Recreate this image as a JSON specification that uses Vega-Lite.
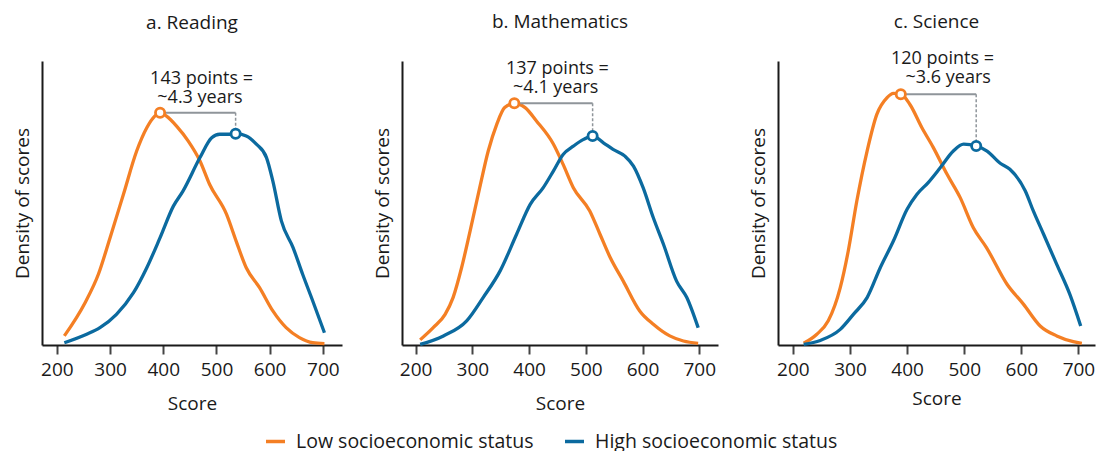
{
  "$schema": "https://vega.github.io/schema/vega-lite/v6.json",
  "padding": {"left": 13, "right": 8, "top": 13, "bottom": 25},
  "background": "white",
  "spacing": 31,
  "config": {
    "font": "Open Sans",
    "view": {"stroke": null},
    "axis": {"grid": false, "labelFont": "Open Sans", "titleFont": "Open Sans", "labelFontSize": 19, "titleFontSize": 19, "labelColor": "#1a1a1a", "titleColor": "#1a1a1a", "titleFontWeight": "normal", "domainColor": "#1a1a1a", "domainWidth": 2, "tickColor": "#444444", "tickWidth": 2},
    "title": {"font": "Open Sans", "fontSize": 19, "fontWeight": "normal", "color": "#1a1a1a", "anchor": "middle", "offset": 28},
    "legend": {"labelFont": "Open Sans", "labelFontSize": 19.5, "labelColor": "#1a1a1a", "symbolStrokeWidth": 3.5, "symbolSize": 361, "columnPadding": 24, "labelOffset": 9, "labelLimit": 400}
  },
  "datasets": {
    "curves": [
      {"panel":"R","group":"Low socioeconomic status","score":214,"density":3.2},
      {"panel":"R","group":"Low socioeconomic status","score":253,"density":14.9},
      {"panel":"R","group":"Low socioeconomic status","score":278,"density":24.9},
      {"panel":"R","group":"Low socioeconomic status","score":300,"density":37.8},
      {"panel":"R","group":"Low socioeconomic status","score":325,"density":53},
      {"panel":"R","group":"Low socioeconomic status","score":350,"density":68.3},
      {"panel":"R","group":"Low socioeconomic status","score":369,"density":76.5},
      {"panel":"R","group":"Low socioeconomic status","score":384,"density":80.6},
      {"panel":"R","group":"Low socioeconomic status","score":394,"density":81.8},
      {"panel":"R","group":"Low socioeconomic status","score":406,"density":80.6},
      {"panel":"R","group":"Low socioeconomic status","score":425,"density":77.1},
      {"panel":"R","group":"Low socioeconomic status","score":447,"density":71.8},
      {"panel":"R","group":"Low socioeconomic status","score":469,"density":64.8},
      {"panel":"R","group":"Low socioeconomic status","score":487,"density":56.6},
      {"panel":"R","group":"Low socioeconomic status","score":519,"density":46},
      {"panel":"R","group":"Low socioeconomic status","score":537,"density":36.6},
      {"panel":"R","group":"Low socioeconomic status","score":556,"density":27.2},
      {"panel":"R","group":"Low socioeconomic status","score":581,"density":20.2},
      {"panel":"R","group":"Low socioeconomic status","score":606,"density":12},
      {"panel":"R","group":"Low socioeconomic status","score":631,"density":6.1},
      {"panel":"R","group":"Low socioeconomic status","score":656,"density":2.6},
      {"panel":"R","group":"Low socioeconomic status","score":681,"density":0.8},
      {"panel":"R","group":"Low socioeconomic status","score":703,"density":0.5},
      {"panel":"R","group":"High socioeconomic status","score":214,"density":0.8},
      {"panel":"R","group":"High socioeconomic status","score":256,"density":3.8},
      {"panel":"R","group":"High socioeconomic status","score":281,"density":6.1},
      {"panel":"R","group":"High socioeconomic status","score":312,"density":10.8},
      {"panel":"R","group":"High socioeconomic status","score":344,"density":18.4},
      {"panel":"R","group":"High socioeconomic status","score":369,"density":27.2},
      {"panel":"R","group":"High socioeconomic status","score":394,"density":37.8},
      {"panel":"R","group":"High socioeconomic status","score":419,"density":48.9},
      {"panel":"R","group":"High socioeconomic status","score":437,"density":54.2},
      {"panel":"R","group":"High socioeconomic status","score":469,"density":66},
      {"panel":"R","group":"High socioeconomic status","score":491,"density":73},
      {"panel":"R","group":"High socioeconomic status","score":506,"density":74.2},
      {"panel":"R","group":"High socioeconomic status","score":525,"density":74.2},
      {"panel":"R","group":"High socioeconomic status","score":536,"density":74.4},
      {"panel":"R","group":"High socioeconomic status","score":556,"density":73.6},
      {"panel":"R","group":"High socioeconomic status","score":575,"density":70.7},
      {"panel":"R","group":"High socioeconomic status","score":594,"density":66},
      {"panel":"R","group":"High socioeconomic status","score":606,"density":57.7},
      {"panel":"R","group":"High socioeconomic status","score":622,"density":43.7},
      {"panel":"R","group":"High socioeconomic status","score":644,"density":34.3},
      {"panel":"R","group":"High socioeconomic status","score":662,"density":24.9},
      {"panel":"R","group":"High socioeconomic status","score":681,"density":15.5},
      {"panel":"R","group":"High socioeconomic status","score":703,"density":4.3},
      {"panel":"M","group":"Low socioeconomic status","score":208,"density":1.8},
      {"panel":"M","group":"Low socioeconomic status","score":231,"density":6.1},
      {"panel":"M","group":"Low socioeconomic status","score":252,"density":10.8},
      {"panel":"M","group":"Low socioeconomic status","score":266,"density":16.7},
      {"panel":"M","group":"Low socioeconomic status","score":281,"density":27.2},
      {"panel":"M","group":"Low socioeconomic status","score":296,"density":40.1},
      {"panel":"M","group":"Low socioeconomic status","score":313,"density":55.4},
      {"panel":"M","group":"Low socioeconomic status","score":328,"density":68.3},
      {"panel":"M","group":"Low socioeconomic status","score":343,"density":77.7},
      {"panel":"M","group":"Low socioeconomic status","score":357,"density":83.6},
      {"panel":"M","group":"Low socioeconomic status","score":374,"density":85.1},
      {"panel":"M","group":"Low socioeconomic status","score":393,"density":83.6},
      {"panel":"M","group":"Low socioeconomic status","score":413,"density":78.9},
      {"panel":"M","group":"Low socioeconomic status","score":443,"density":70.7},
      {"panel":"M","group":"Low socioeconomic status","score":460,"density":63.6},
      {"panel":"M","group":"Low socioeconomic status","score":478,"density":55.4},
      {"panel":"M","group":"Low socioeconomic status","score":507,"density":47.2},
      {"panel":"M","group":"Low socioeconomic status","score":525,"density":39},
      {"panel":"M","group":"Low socioeconomic status","score":543,"density":30.8},
      {"panel":"M","group":"Low socioeconomic status","score":566,"density":22.5},
      {"panel":"M","group":"Low socioeconomic status","score":595,"density":12},
      {"panel":"M","group":"Low socioeconomic status","score":619,"density":7.3},
      {"panel":"M","group":"Low socioeconomic status","score":648,"density":3.2},
      {"panel":"M","group":"Low socioeconomic status","score":672,"density":1.4},
      {"panel":"M","group":"Low socioeconomic status","score":698,"density":0.6},
      {"panel":"M","group":"High socioeconomic status","score":208,"density":0.2},
      {"panel":"M","group":"High socioeconomic status","score":249,"density":3.2},
      {"panel":"M","group":"High socioeconomic status","score":290,"density":8.5},
      {"panel":"M","group":"High socioeconomic status","score":319,"density":16.7},
      {"panel":"M","group":"High socioeconomic status","score":349,"density":26.1},
      {"panel":"M","group":"High socioeconomic status","score":378,"density":39},
      {"panel":"M","group":"High socioeconomic status","score":402,"density":49.5},
      {"panel":"M","group":"High socioeconomic status","score":425,"density":55.4},
      {"panel":"M","group":"High socioeconomic status","score":443,"density":61.3},
      {"panel":"M","group":"High socioeconomic status","score":460,"density":67.1},
      {"panel":"M","group":"High socioeconomic status","score":478,"density":70},
      {"panel":"M","group":"High socioeconomic status","score":496,"density":72.4},
      {"panel":"M","group":"High socioeconomic status","score":512,"density":73.6},
      {"panel":"M","group":"High socioeconomic status","score":531,"density":71.2},
      {"panel":"M","group":"High socioeconomic status","score":548,"density":68.9},
      {"panel":"M","group":"High socioeconomic status","score":569,"density":66.5},
      {"panel":"M","group":"High socioeconomic status","score":584,"density":63},
      {"panel":"M","group":"High socioeconomic status","score":601,"density":55.4},
      {"panel":"M","group":"High socioeconomic status","score":619,"density":44.8},
      {"panel":"M","group":"High socioeconomic status","score":637,"density":35.4},
      {"panel":"M","group":"High socioeconomic status","score":660,"density":22.5},
      {"panel":"M","group":"High socioeconomic status","score":678,"density":16.7},
      {"panel":"M","group":"High socioeconomic status","score":698,"density":6.1},
      {"panel":"S","group":"Low socioeconomic status","score":219,"density":0.6},
      {"panel":"S","group":"Low socioeconomic status","score":242,"density":3.8},
      {"panel":"S","group":"Low socioeconomic status","score":262,"density":8.5},
      {"panel":"S","group":"Low socioeconomic status","score":283,"density":20.2},
      {"panel":"S","group":"Low socioeconomic status","score":297,"density":33.1},
      {"panel":"S","group":"Low socioeconomic status","score":312,"density":50.7},
      {"panel":"S","group":"Low socioeconomic status","score":330,"density":68.3},
      {"panel":"S","group":"Low socioeconomic status","score":347,"density":81.2},
      {"panel":"S","group":"Low socioeconomic status","score":365,"density":87.1},
      {"panel":"S","group":"Low socioeconomic status","score":376,"density":88.6},
      {"panel":"S","group":"Low socioeconomic status","score":389,"density":88.3},
      {"panel":"S","group":"Low socioeconomic status","score":405,"density":84.7},
      {"panel":"S","group":"Low socioeconomic status","score":426,"density":76.5},
      {"panel":"S","group":"Low socioeconomic status","score":446,"density":69.5},
      {"panel":"S","group":"Low socioeconomic status","score":470,"density":60.1},
      {"panel":"S","group":"Low socioeconomic status","score":493,"density":51.9},
      {"panel":"S","group":"Low socioeconomic status","score":516,"density":41.3},
      {"panel":"S","group":"Low socioeconomic status","score":539,"density":34.3},
      {"panel":"S","group":"Low socioeconomic status","score":575,"density":21.4},
      {"panel":"S","group":"Low socioeconomic status","score":604,"density":14.3},
      {"panel":"S","group":"Low socioeconomic status","score":633,"density":6.7},
      {"panel":"S","group":"Low socioeconomic status","score":662,"density":3.2},
      {"panel":"S","group":"Low socioeconomic status","score":691,"density":1.2},
      {"panel":"S","group":"Low socioeconomic status","score":706,"density":0.6},
      {"panel":"S","group":"High socioeconomic status","score":219,"density":0.2},
      {"panel":"S","group":"High socioeconomic status","score":248,"density":1.6},
      {"panel":"S","group":"High socioeconomic status","score":283,"density":5.5},
      {"panel":"S","group":"High socioeconomic status","score":306,"density":10.8},
      {"panel":"S","group":"High socioeconomic status","score":330,"density":16.7},
      {"panel":"S","group":"High socioeconomic status","score":353,"density":27.2},
      {"panel":"S","group":"High socioeconomic status","score":376,"density":36.6},
      {"panel":"S","group":"High socioeconomic status","score":400,"density":47.8},
      {"panel":"S","group":"High socioeconomic status","score":417,"density":53},
      {"panel":"S","group":"High socioeconomic status","score":437,"density":57.2},
      {"panel":"S","group":"High socioeconomic status","score":458,"density":62.4},
      {"panel":"S","group":"High socioeconomic status","score":481,"density":68.3},
      {"panel":"S","group":"High socioeconomic status","score":499,"density":70.7},
      {"panel":"S","group":"High socioeconomic status","score":521,"density":70.1},
      {"panel":"S","group":"High socioeconomic status","score":540,"density":68.3},
      {"panel":"S","group":"High socioeconomic status","score":563,"density":64},
      {"panel":"S","group":"High socioeconomic status","score":580,"density":61.9},
      {"panel":"S","group":"High socioeconomic status","score":607,"density":54.2},
      {"panel":"S","group":"High socioeconomic status","score":621,"density":47.2},
      {"panel":"S","group":"High socioeconomic status","score":639,"density":39},
      {"panel":"S","group":"High socioeconomic status","score":662,"density":28.4},
      {"panel":"S","group":"High socioeconomic status","score":685,"density":17.8},
      {"panel":"S","group":"High socioeconomic status","score":704,"density":6.7}
    ],
    "peaks": [
      {"panel":"R","group":"Low socioeconomic status","score":394,"density":81.8},
      {"panel":"R","group":"High socioeconomic status","score":536,"density":74.4},
      {"panel":"M","group":"Low socioeconomic status","score":374,"density":85.1},
      {"panel":"M","group":"High socioeconomic status","score":512,"density":73.6},
      {"panel":"S","group":"Low socioeconomic status","score":389,"density":88.3},
      {"panel":"S","group":"High socioeconomic status","score":521,"density":70.1}
    ],
    "gaps": [
      {"panel":"R","low":394,"high":536,"lowDensity":81.8,"highDensity":74.4},
      {"panel":"M","low":374,"high":512,"lowDensity":85.1,"highDensity":73.6},
      {"panel":"S","low":389,"high":521,"lowDensity":88.3,"highDensity":70.1}
    ],
    "notes": [
      {"panel":"R","text":"143 points =","score":472,"density":93.5},
      {"panel":"R","text":"~4.3 years","score":469,"density":86.8},
      {"panel":"M","text":"137 points =","score":450,"density":97.1},
      {"panel":"M","text":"~4.1 years","score":447,"density":90.4},
      {"panel":"S","text":"120 points =","score":462,"density":100.6},
      {"panel":"S","text":"~3.6 years","score":472,"density":93.9}
    ]
  },
  "hconcat": [
    {
      "width": 300, "height": 284,
      "title": {"text": "a. Reading"},
      "layer": [
        {"data": {"name": "curves"}, "transform": [{"filter": "datum.panel === 'R'"}],
         "mark": {"type": "line", "strokeWidth": 3.3, "interpolate": "monotone"},
         "encoding": {
           "x": {"field": "score", "type": "quantitative", "scale": {"domain": [172, 736], "nice": false, "zero": false}, "axis": {"values": [200,300,400,500,600,700], "title": "Score", "tickSize": 9, "labelPadding": 6, "titlePadding": 15}},
           "y": {"field": "density", "type": "quantitative", "scale": {"domain": [0, 100], "nice": false}, "axis": {"title": "Density of scores", "ticks": false, "labels": false, "titlePadding": 10}},
           "color": {"field": "group", "type": "nominal", "scale": {"domain": ["Low socioeconomic status", "High socioeconomic status"], "range": ["#F47F24", "#0B6A9F"]},
             "legend": {"title": null, "orient": "none", "direction": "horizontal", "legendX": 222, "legendY": 369, "symbolType": "stroke"}}
         }},
        {"data": {"name": "gaps"}, "transform": [{"filter": "datum.panel === 'R'"}],
         "mark": {"type": "rule", "color": "#8f959a", "strokeWidth": 2},
         "encoding": {"x": {"field": "low", "type": "quantitative"}, "x2": {"field": "high"}, "y": {"field": "lowDensity", "type": "quantitative"}}},
        {"data": {"name": "gaps"}, "transform": [{"filter": "datum.panel === 'R'"}],
         "mark": {"type": "rule", "color": "#8f959a", "strokeWidth": 1.5, "strokeDash": [3, 2]},
         "encoding": {"x": {"field": "high", "type": "quantitative"}, "y": {"field": "lowDensity", "type": "quantitative"}, "y2": {"field": "highDensity"}}},
        {"data": {"name": "peaks"}, "transform": [{"filter": "datum.panel === 'R'"}],
         "mark": {"type": "point", "filled": false, "fill": "white", "fillOpacity": 1, "strokeWidth": 2.8, "size": 85, "opacity": 1},
         "encoding": {"x": {"field": "score", "type": "quantitative"}, "y": {"field": "density", "type": "quantitative"},
           "color": {"field": "group", "type": "nominal"}}},
        {"data": {"name": "notes"}, "transform": [{"filter": "datum.panel === 'R'"}],
         "mark": {"type": "text", "fontSize": 18, "font": "Open Sans", "color": "#1a1a1a"},
         "encoding": {"x": {"field": "score", "type": "quantitative"}, "y": {"field": "density", "type": "quantitative"}, "text": {"field": "text"}}}
      ]
    },
    {
      "width": 316, "height": 284,
      "title": {"text": "b. Mathematics"},
      "layer": [
        {"data": {"name": "curves"}, "transform": [{"filter": "datum.panel === 'M'"}],
         "mark": {"type": "line", "strokeWidth": 3.3, "interpolate": "monotone"},
         "encoding": {
           "x": {"field": "score", "type": "quantitative", "scale": {"domain": [176, 733], "nice": false, "zero": false}, "axis": {"values": [200,300,400,500,600,700], "title": "Score", "tickSize": 9, "labelPadding": 6, "titlePadding": 15}},
           "y": {"field": "density", "type": "quantitative", "scale": {"domain": [0, 100], "nice": false}, "axis": {"title": "Density of scores", "ticks": false, "labels": false, "titlePadding": 10}},
           "color": {"field": "group", "type": "nominal", "scale": {"domain": ["Low socioeconomic status", "High socioeconomic status"], "range": ["#F47F24", "#0B6A9F"]},
             "legend": {"title": null, "orient": "none", "direction": "horizontal", "legendX": 222, "legendY": 369, "symbolType": "stroke"}}
         }},
        {"data": {"name": "gaps"}, "transform": [{"filter": "datum.panel === 'M'"}],
         "mark": {"type": "rule", "color": "#8f959a", "strokeWidth": 2},
         "encoding": {"x": {"field": "low", "type": "quantitative"}, "x2": {"field": "high"}, "y": {"field": "lowDensity", "type": "quantitative"}}},
        {"data": {"name": "gaps"}, "transform": [{"filter": "datum.panel === 'M'"}],
         "mark": {"type": "rule", "color": "#8f959a", "strokeWidth": 1.5, "strokeDash": [3, 2]},
         "encoding": {"x": {"field": "high", "type": "quantitative"}, "y": {"field": "lowDensity", "type": "quantitative"}, "y2": {"field": "highDensity"}}},
        {"data": {"name": "peaks"}, "transform": [{"filter": "datum.panel === 'M'"}],
         "mark": {"type": "point", "filled": false, "fill": "white", "fillOpacity": 1, "strokeWidth": 2.8, "size": 85, "opacity": 1},
         "encoding": {"x": {"field": "score", "type": "quantitative"}, "y": {"field": "density", "type": "quantitative"},
           "color": {"field": "group", "type": "nominal"}}},
        {"data": {"name": "notes"}, "transform": [{"filter": "datum.panel === 'M'"}],
         "mark": {"type": "text", "fontSize": 18, "font": "Open Sans", "color": "#1a1a1a"},
         "encoding": {"x": {"field": "score", "type": "quantitative"}, "y": {"field": "density", "type": "quantitative"}, "text": {"field": "text"}}}
      ]
    },
    {
      "width": 317, "height": 284,
      "title": {"text": "c. Science", "dy": 10},
      "layer": [
        {"data": {"name": "curves"}, "transform": [{"filter": "datum.panel === 'S'"}],
         "mark": {"type": "line", "strokeWidth": 3.3, "interpolate": "monotone"},
         "encoding": {
           "x": {"field": "score", "type": "quantitative", "scale": {"domain": [174, 729], "nice": false, "zero": false}, "axis": {"values": [200,300,400,500,600,700], "title": "Score", "tickSize": 9, "labelPadding": 6, "titlePadding": 10}},
           "y": {"field": "density", "type": "quantitative", "scale": {"domain": [0, 100], "nice": false}, "axis": {"title": "Density of scores", "ticks": false, "labels": false, "titlePadding": 10}},
           "color": {"field": "group", "type": "nominal", "scale": {"domain": ["Low socioeconomic status", "High socioeconomic status"], "range": ["#F47F24", "#0B6A9F"]},
             "legend": {"title": null, "orient": "none", "direction": "horizontal", "legendX": 222, "legendY": 369, "symbolType": "stroke"}}
         }},
        {"data": {"name": "gaps"}, "transform": [{"filter": "datum.panel === 'S'"}],
         "mark": {"type": "rule", "color": "#8f959a", "strokeWidth": 2},
         "encoding": {"x": {"field": "low", "type": "quantitative"}, "x2": {"field": "high"}, "y": {"field": "lowDensity", "type": "quantitative"}}},
        {"data": {"name": "gaps"}, "transform": [{"filter": "datum.panel === 'S'"}],
         "mark": {"type": "rule", "color": "#8f959a", "strokeWidth": 1.5, "strokeDash": [3, 2]},
         "encoding": {"x": {"field": "high", "type": "quantitative"}, "y": {"field": "lowDensity", "type": "quantitative"}, "y2": {"field": "highDensity"}}},
        {"data": {"name": "peaks"}, "transform": [{"filter": "datum.panel === 'S'"}],
         "mark": {"type": "point", "filled": false, "fill": "white", "fillOpacity": 1, "strokeWidth": 2.8, "size": 85, "opacity": 1},
         "encoding": {"x": {"field": "score", "type": "quantitative"}, "y": {"field": "density", "type": "quantitative"},
           "color": {"field": "group", "type": "nominal"}}},
        {"data": {"name": "notes"}, "transform": [{"filter": "datum.panel === 'S'"}],
         "mark": {"type": "text", "fontSize": 18, "font": "Open Sans", "color": "#1a1a1a"},
         "encoding": {"x": {"field": "score", "type": "quantitative"}, "y": {"field": "density", "type": "quantitative"}, "text": {"field": "text"}}}
      ]
    }
  ]
}
